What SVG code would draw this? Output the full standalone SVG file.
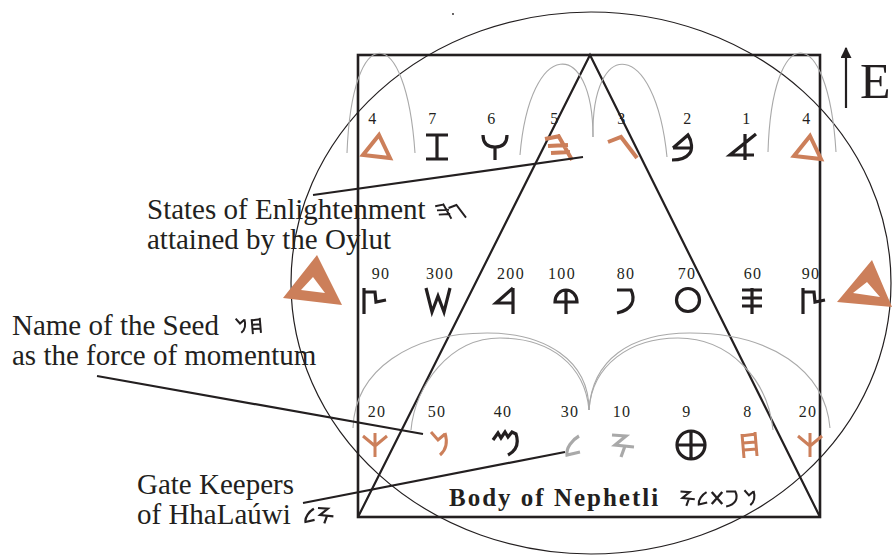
<svg xmlns="http://www.w3.org/2000/svg" xmlns:xlink="http://www.w3.org/1999/xlink" width="892" height="555" viewBox="0 0 892 555">
<style>
.t{font-family:"Liberation Serif","Times New Roman",serif;fill:#231f20}
.lab{font-size:29px}
.num{font-size:16px;letter-spacing:1.3px;text-anchor:middle}
.k{stroke:#231f20;fill:none;stroke-width:3.2}
.o{stroke:#cc7f5a;fill:none;stroke-width:4}
.gr{stroke:#a9a9a9;fill:none;stroke-width:3.2}
.arc{stroke:#a9a9a9;fill:none;stroke-width:1.1}
.ln{stroke:#231f20;fill:none;stroke-width:2.2}
.sm{stroke-width:3}
</style>
<defs>
<path id="tri" d="M2,-12 L-14,8 L13,11 Z"/>
<path id="zayin" d="M-11,-12 H11 M0,-12 V12 M-11,12 H11"/>
<path id="waw" d="M-12,-12 Q-12,0 0,0 Q12,0 12,-12 M0,0 V13"/>
<path id="he" d="M-13,-8 L2,-11 M-10,-1 L10,-2 M-7,6 L12,5 M0,-12 L14,13"/>
<path id="gimel" d="M-14,-5 L-1,-10 L15,11"/>
<path id="bet" d="M-10,1 L5,-12 C9,-6 10,3 6,7 C3,11 -3,13 -11,13 M-10,1 H8"/>
<path id="aleph" d="M3,-13 V13 M14,-13 L-12,8 H12"/>
<path id="tsade" d="M-10,-12 V14 M-10,-8 H1 L2,2 L12,0"/>
<path id="shin" d="M-12,-12 L-6,12 L0,-4 L6,12 L12,-12"/>
<path id="resh" d="M8,-12 V14 M8,-12 L-9,3 H8"/>
<path id="qof" d="M-11,2 A11,12 0 0 1 11,2 Z M0,-10 V14"/>
<path id="pe" d="M-9,-10 H5 C10,0 6,10 -9,13"/>
<circle id="ayin" r="11.5"/>
<path id="samekh" d="M-10,-10 H10 M-10,-2 H10 M-10,6 H10 M0,-12 V14"/>
<path id="kaph" d="M0,-12 V12 M-12,-9 L0,1 M12,-9 L0,1"/>
<path id="nun" d="M-7,-12 L0,-4 L7,-10 M7,-11 C10,-1 8,6 2,11"/>
<path id="mem" d="M-10,-5 L-5,-12 L-2,-7 L2,-13 L5,-8 L9,-13 L13,-11 C16,-2 14,5 5,10"/>
<path id="lamed" d="M7,-9 C0,-5 -6,3 -5,10 L8,7"/>
<path id="yod" d="M-10,-10 L4,-9 L-7,0 L12,2 M3,1 L-1,12"/>
<path id="tet" d="M0,-14 V14 M-14,0 H14 M14,0 A14,14 0 1 1 -14,0 A14,14 0 1 1 14,0"/>
<path id="het" d="M-7,-11 L-5,13 M6,-13 L8,11 M-8,-9 L7,-11 M-6,-2 L7,-3 M-5,5 L8,4"/>
<path id="tav" d="M-7,-8 L7,8 M7,-8 L-7,8"/>
<marker id="ah" viewBox="0 0 10 10" refX="9" refY="5" markerWidth="5" markerHeight="5" orient="auto"><path d="M0,0 L10,5 L0,10 Z" fill="#231f20"/></marker>
</defs>

<g id="frame">
<ellipse cx="591" cy="283" rx="300" ry="271" fill="none" stroke="#231f20" stroke-width="1.2"/>
<rect x="358" y="55" width="462" height="462" fill="none" stroke="#231f20" stroke-width="2.6"/>
<path d="M358,517 L590,55 L820,517" fill="none" stroke="#231f20" stroke-width="2.2"/>
<circle cx="453" cy="14" r="0.9" fill="#231f20"/>
</g>

<g id="arcs">
<path class="arc" d="M347,153 C352,20 406,20 415,153"/>
<path class="arc" d="M520,155 C530,37 593,37 593,137"/>
<path class="arc" d="M593,137 C591,37 655,37 667,157"/>
<path class="arc" d="M768,152 C772,20 828,20 836,152"/>
<path class="arc" d="M353,428 C355,370 410,333 487,333 C545,333 589,360 589,410"/>
<path class="arc" d="M411,430 C415,385 450,338 500,338 C550,338 585,365 589,410"/>
<path class="arc" d="M589,410 C592,360 630,333 690,333 C770,333 825,370 830,428"/>
<path class="arc" d="M589,410 C592,365 630,338 678,338 C730,338 768,380 773,430"/>
</g>

<g id="row-top">
<text class="t num" x="373" y="124">4</text>
<text class="t num" x="433" y="124">7</text>
<text class="t num" x="492" y="124">6</text>
<text class="t num" x="555" y="124">5</text>
<text class="t num" x="622" y="124">3</text>
<text class="t num" x="688" y="124">2</text>
<text class="t num" x="747" y="124">1</text>
<text class="t num" x="807" y="124">4</text>
<use href="#tri" class="o" transform="translate(377,147)"/>
<use href="#zayin" class="k" transform="translate(437,147)"/>
<use href="#waw" class="k" transform="translate(495,147)"/>
<use href="#he" class="o" transform="translate(558,147)"/>
<use href="#gimel" class="o" transform="translate(622,147)"/>
<use href="#bet" class="k" transform="translate(683,147)"/>
<use href="#aleph" class="k" transform="translate(742,147)"/>
<use href="#tri" class="o" transform="translate(808,148)"/>
</g>

<g id="row-middle">
<path d="M317,255 L283,298 L342,305 Z M313,277 L301,290 L325,293 Z" fill="#cc7f5a" fill-rule="evenodd"/>
<path d="M872,260 L837,302 L892,307 Z M867,282 L853,293 L880,297 Z" fill="#cc7f5a" fill-rule="evenodd"/>
<text class="t num" x="381" y="279">90</text>
<text class="t num" x="440" y="279">300</text>
<text class="t num" x="511" y="279">200</text>
<text class="t num" x="562" y="279">100</text>
<text class="t num" x="626" y="279">80</text>
<text class="t num" x="687" y="279">70</text>
<text class="t num" x="753" y="279">60</text>
<text class="t num" x="811" y="279">90</text>
<use href="#tsade" class="k" transform="translate(374,300)"/>
<use href="#shin" class="k" transform="translate(438,300)"/>
<use href="#resh" class="k" transform="translate(505,300)"/>
<use href="#qof" class="k" transform="translate(566,300)"/>
<use href="#pe" class="k" transform="translate(626,300)"/>
<use href="#ayin" class="k" transform="translate(688,300)"/>
<use href="#samekh" class="k" transform="translate(752,300)"/>
<use href="#tsade" class="k" transform="translate(813,300)"/>
</g>

<g id="row-bottom">
<text class="t num" x="377" y="417">20</text>
<text class="t num" x="437" y="417">50</text>
<text class="t num" x="503" y="417">40</text>
<text class="t num" x="570" y="417">30</text>
<text class="t num" x="622" y="417">10</text>
<text class="t num" x="687" y="417">9</text>
<text class="t num" x="748" y="417">8</text>
<text class="t num" x="808" y="417">20</text>
<use href="#kaph" class="o sm" transform="translate(375,445)"/>
<use href="#nun" class="o sm" transform="translate(438,444)"/>
<use href="#mem" class="k" transform="translate(503,445)"/>
<use href="#lamed" class="gr" transform="translate(572,445)"/>
<use href="#yod" class="gr" transform="translate(622,445)"/>
<use href="#tet" class="k" transform="translate(691,445)"/>
<use href="#het" class="o sm" transform="translate(749,445)"/>
<use href="#kaph" class="o sm" transform="translate(810,445)"/>
</g>

<g id="connectors">
<path class="ln" d="M313,195 L583,157"/>
<path class="ln" d="M97,376 L423,434"/>
<path class="ln" d="M303,503 L565,452"/>
<path class="ln" d="M846,108 V48" marker-end="url(#ah)"/>
</g>

<g id="label-states">
<text class="t lab" x="147" y="219">States of Enlightenment</text>
<text class="t lab" x="147" y="249">attained by the Oylut</text>
<use href="#he" class="k" transform="translate(443,211) scale(0.6)"/>
<use href="#gimel" class="k" transform="translate(457,211) scale(0.6)"/>
</g>

<g id="label-seed">
<text class="t lab" x="12" y="335">Name of the Seed</text>
<text class="t lab" x="12" y="365">as the force of momentum</text>
<use href="#nun" class="k" transform="translate(240,326) scale(0.62)"/>
<use href="#het" class="k" transform="translate(256,326) scale(0.62)"/>
</g>

<g id="label-gate">
<text class="t lab" x="137" y="494">Gate Keepers</text>
<text class="t lab" x="137" y="524">of HhaLaúwi</text>
<use href="#lamed" class="k" transform="translate(309,515) scale(0.7)"/>
<use href="#yod" class="k" transform="translate(325,515) scale(0.7)"/>
</g>

<g id="label-body">
<text class="t" x="449" y="506" font-size="25" font-weight="bold" letter-spacing="2">Body of Nephetli</text>
<use href="#yod" class="k" transform="translate(687,498) scale(0.65)"/>
<use href="#lamed" class="k" transform="translate(702,498) scale(0.65)"/>
<use href="#tav" class="k" transform="translate(717,498) scale(0.75)"/>
<use href="#pe" class="k" transform="translate(732,498) scale(0.65)"/>
<use href="#nun" class="k" transform="translate(749,498) scale(0.65)"/>
</g>

<g id="label-e">
<text class="t" x="860" y="98" font-size="50">E</text>
</g>
</svg>
